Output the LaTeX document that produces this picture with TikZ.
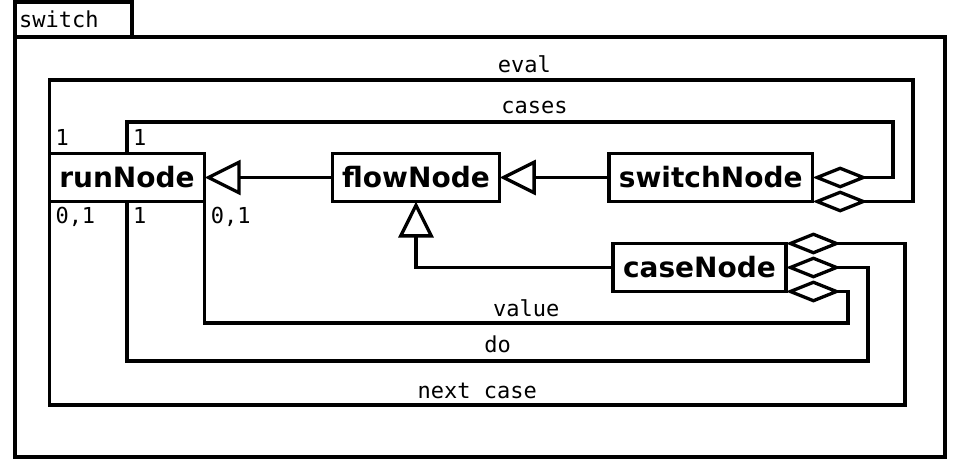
\documentclass[tikz,border=0pt]{standalone}
\usepackage{fontspec}
\setmainfont{DejaVu Sans}
\setmonofont{DejaVu Sans Mono}
\usetikzlibrary{arrows.meta}
\tikzset{
classbox/.style={
  draw, line width=3.3pt, outer sep=0pt,
  font=\fontsize{28}{34}\selectfont\bfseries,
  minimum height=48pt, inner xsep=10pt
},
lbl/.style={font=\fontsize{22}{26}\selectfont\ttfamily, inner sep=0pt, text depth=0pt},
mult/.style={lbl, anchor=base west},
link/.style={line width=3.3pt},
gen/.style={link, -{Triangle[open, length=36pt, width=35pt]}},
agg/.style={link, {Diamond[open, length=55pt, width=22pt]}-},
}

\begin{document}
\begin{tikzpicture}[x=1pt, y=-1pt]
\useasboundingbox (0,0) rectangle (957,461);
% the package
\draw[link] (15,37) rectangle (132,2);
\draw[link] (15,37) rectangle (945,457);
\node[mult] (pkgname) at (19,27.5) {switch};
% the classes
\node[classbox] (runNode) at (127,177.5) {runNode};
\node[classbox] (flowNode) at (416,177.5) {flowNode};
\node[classbox] (switchNode) at (710.8,177.5) {switchNode};
\node[classbox] (caseNode) at (699.5,267.5) {caseNode};
% the generalizations
\draw[gen] (flowNode) -- (runNode);
\draw[gen] (switchNode) -- (flowNode);
\draw[gen] (caseNode.west) -| (flowNode.south);
% the aggregations
\draw[agg] (switchNode.south east) -| (913,80)
  -| node[lbl, above=6pt, pos=0.225] {eval} (runNode.north west);
\draw[agg] (switchNode.east) -| (893,122)
  -| node[lbl, above=7pt, pos=0.234] {cases} (runNode.north);
\draw[agg] (caseNode.north east) -| (905,405)
  -| node[lbl, above=5pt, pos=0.25] {next case} (runNode.south west);
\draw[agg] (caseNode.east) -| (868,361)
  -| node[lbl, above=7pt, pos=0.25] {do} (runNode.south);
\draw[agg] (caseNode.south east) -| (848,323)
  -| node[lbl, above=5pt, pos=0.25] {value} (runNode.south east);
% the multiplicities
\node[mult] (eval1) at ([xshift=6pt, yshift=8pt]runNode.north west) {1};
\node[mult] (cases1) at ([xshift=6pt, yshift=8pt]runNode.north) {1};
\node[mult] (next01) at ([xshift=6pt, yshift=-21.5pt]runNode.south west) {0,1};
\node[mult] (do1) at ([xshift=6pt, yshift=-21.5pt]runNode.south) {1};
\node[mult] (value01) at ([xshift=6pt, yshift=-21.5pt]runNode.south east) {0,1};
\end{tikzpicture}
\end{document}
